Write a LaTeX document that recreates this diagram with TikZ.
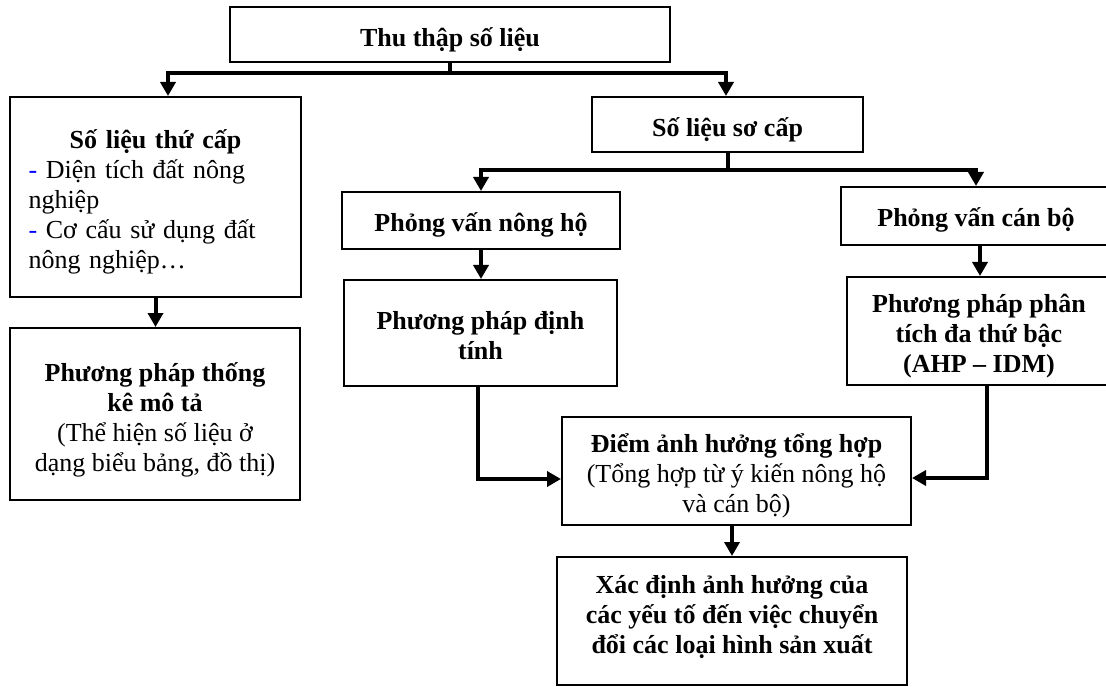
\documentclass[tikz,border=0pt]{standalone}
\usepackage{fontspec}
\setmainfont{Liberation Serif}
\usetikzlibrary{arrows.meta}
\begin{document}
\begin{tikzpicture}[x=1pt,y=-1pt,
  box/.style={draw, line width=2pt, inner sep=0pt},
  txt/.style={inner sep=0pt, align=center, font=\fontsize{26}{30}\selectfont},
  conn/.style={line width=4pt},
  arr/.style={conn, -{Triangle[width=15pt,length=14pt]}}]
\useasboundingbox[fill=white] (0,0) rectangle (1106,687);

% boxes
\node[box, minimum width=440pt, minimum height=55pt] (top) at (450,34.5) {};
\node[box, minimum width=291pt, minimum height=200pt] (thucap) at (155.5,197) {};
\node[box, minimum width=271pt, minimum height=55pt] (socap) at (727.5,124.5) {};
\node[box, minimum width=278pt, minimum height=57pt] (pvnh) at (481,220.5) {};
\node[box, minimum width=270pt, minimum height=58pt] (pvcb) at (976,216) {};
\node[box, minimum width=273pt, minimum height=106pt] (ppdt) at (480.5,333) {};
\node[box, minimum width=264pt, minimum height=108pt] (ahp) at (979,331) {};
\node[box, minimum width=290pt, minimum height=172pt] (tkmt) at (155,414) {};
\node[box, minimum width=349pt, minimum height=108pt] (diem) at (736.5,471) {};
\node[box, minimum width=350pt, minimum height=128pt] (xd) at (732,621) {};

% texts
\node[txt] (toptext) at ([yshift=-5pt]top.center) {\textbf{Thu thập số liệu}};
\node[txt, text width=254pt, align=left] (thucaptext) at ([yshift=-5pt]thucap.center)
  {\makebox[254pt]{\textbf{Số liệu thứ cấp}}\\
   {\color{blue}-} Diện tích đất nông\\
   nghiệp\\
   {\color{blue}-} Cơ cấu sử dụng đất\\
   nông nghiệp…};
\node[txt] (socaptext) at ([yshift=-5pt]socap.center) {\textbf{Số liệu sơ cấp}};
\node[txt] (pvnhtext) at ([yshift=-4pt]pvnh.center) {\textbf{Phỏng vấn nông hộ}};
\node[txt] (pvcbtext) at ([yshift=-4pt]pvcb.center) {\textbf{Phỏng vấn cán bộ}};
\node[txt] (ppdttext) at ([yshift=-3pt]ppdt.center) {\textbf{Phương pháp định}\\\textbf{tính}};
\node[txt] (ahptext) at ([yshift=-5pt]ahp.center) {\textbf{Phương pháp phân}\\\textbf{tích đa thứ bậc}\\\textbf{(AHP – IDM)}};
\node[txt] (tkmttext) at ([yshift=-6pt]tkmt.center)
  {\textbf{Phương pháp thống}\\\textbf{kê mô tả}\\(Thể hiện số liệu ở\\dạng biểu bảng, đồ thị)};
\node[txt] (diemtext) at ([yshift=-5pt]diem.center)
  {\textbf{Điểm ảnh hưởng tổng hợp}\\(Tổng hợp từ ý kiến nông hộ\\và cán bộ)};
\node[txt] (xdtext) at ([yshift=4pt]xd.center) {\textbf{Xác định ảnh hưởng của}\\\textbf{các yếu tố đến việc chuyển}\\\textbf{đổi các loại hình sản xuất}};

% connectors
\coordinate (j1) at (450,73);
\coordinate (j2) at (727.5,170);
\draw[conn] (top.south) -- (j1);
\draw[arr] (j1) -| ([xshift=12.5pt]thucap.north);
\draw[arr] (j1) -| ([xshift=-1.5pt]socap.north);
\draw[conn] (socap.south) -- (j2);
\draw[arr] (j2) -| (pvnh.north);
\draw[arr] (j2) -| (pvcb.north);
\draw[arr] (pvnh.south) -- (pvnh.south |- ppdt.north);
\draw[arr] ([xshift=4pt]pvcb.south) -- ([xshift=4pt]pvcb.south |- ahp.north);
\draw[arr] (thucap.south) -- (thucap.south |- tkmt.north);
\draw[arr] ([xshift=-2.5pt]ppdt.south) |- ([yshift=-8pt]diem.west);
\draw[arr] ([xshift=8pt]ahp.south) |- ([yshift=-7pt]diem.east);
\draw[arr] ([xshift=-4.5pt]diem.south) -- ([xshift=-4.5pt]diem.south |- xd.north);
\end{tikzpicture}
\end{document}
